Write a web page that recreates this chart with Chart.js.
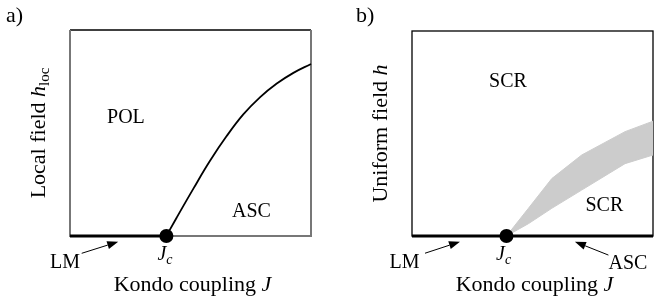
<!DOCTYPE html>
<html><head><meta charset="utf-8">
<script src="https://cdn.jsdelivr.net/npm/chart.js@4.4.1/dist/chart.umd.min.js"></script>
<style>
html,body{margin:0;padding:0;background:#fff;}
#wrap{display:flex;width:660px;height:299px;}
canvas{display:block;}
</style>
</head><body>
<div id="wrap"><canvas id="ca" width="330" height="299"></canvas><canvas id="cb" width="330" height="299"></canvas></div>
<script>
// ---- data (normalised J, h) ----
const JcA = 0.40;
const JcB = 0.392;
// panel a: POL / ASC boundary h_loc(J)
const boundaryJ = [0.40, 0.443, 0.512, 0.581, 0.650, 0.719, 0.788, 0.858, 0.927, 1.0];
const boundaryH = [0.0, 0.09, 0.23, 0.365, 0.485, 0.59, 0.673, 0.74, 0.792, 0.835];
// panel b: crossover band (upper and lower edges, read at the same J values)
const bandJ      = [0.392, 0.483, 0.580, 0.704, 0.884, 1.0];
const bandUpperH = [0.0, 0.135, 0.28, 0.395, 0.509, 0.56];
const bandLowerH = [0.0, 0.06, 0.135, 0.224, 0.353, 0.395];
// text labels
const panelLabels = ['a)', 'b)'];
const xTitle = ['Kondo coupling ', 'J'];
const yTitleA = ['Local field ', 'h', 'loc'];
const yTitleB = ['Uniform field ', 'h'];
const regionTextA = ['POL', 'ASC'];
const regionPosA = [[0.232, 0.547], [0.753, 0.094]];
const regionTextB = ['SCR', 'SCR'];
const regionPosB = [[0.398, 0.725], [0.798, 0.123]];

const toXY = (xs, ys) => xs.map((x, i) => ({x, y: ys[i]}));
const bandPolygon = toXY(bandJ, bandUpperH).concat(toXY(bandJ, bandLowerH).reverse());
const SERIF = '"Liberation Serif", "DejaVu Serif", serif';
const F = (s, it) => (it ? 'italic ' : '') + s + 'px ' + SERIF;

function drawRich(ctx, parts, x, y, align) {
  let w = 0;
  parts.forEach(p => { ctx.font = p.font; w += ctx.measureText(p.t).width; });
  let cx = align === 'center' ? x - w / 2 : (align === 'right' ? x - w : x);
  ctx.textAlign = 'left';
  ctx.textBaseline = 'alphabetic';
  parts.forEach(p => {
    ctx.font = p.font;
    ctx.fillText(p.t, cx, y + (p.dy || 0));
    cx += ctx.measureText(p.t).width;
  });
}

function arrow(ctx, x1, y1, x2, y2) {
  const ang = Math.atan2(y2 - y1, x2 - x1);
  const L = 11, W = 4;
  const bx = x2 - L * Math.cos(ang), by = y2 - L * Math.sin(ang);
  ctx.strokeStyle = '#000'; ctx.lineWidth = 1;
  ctx.beginPath(); ctx.moveTo(x1, y1); ctx.lineTo(bx, by); ctx.stroke();
  ctx.fillStyle = '#000';
  ctx.beginPath();
  ctx.moveTo(x2, y2);
  ctx.lineTo(bx + W * Math.sin(ang), by - W * Math.cos(ang));
  ctx.lineTo(bx - W * Math.sin(ang), by + W * Math.cos(ang));
  ctx.closePath(); ctx.fill();
}

function makeDecor(cfg) {
  return {
    id: 'decor' + cfg.id,
    beforeDatasetsDraw(chart) {
      const {ctx, chartArea: a} = chart;
      ctx.save();
      if (cfg.id === 'a') {
        ctx.strokeStyle = '#000'; ctx.lineWidth = 1.3;
        ctx.beginPath(); ctx.moveTo(a.left, a.top); ctx.lineTo(a.right, a.top); ctx.stroke();
        ctx.strokeStyle = '#777'; ctx.lineWidth = 2;
        ctx.beginPath();
        ctx.moveTo(a.left, a.top); ctx.lineTo(a.left, a.bottom); ctx.lineTo(a.right, a.bottom); ctx.lineTo(a.right, a.top);
        ctx.stroke();
      } else {
        ctx.strokeStyle = '#000'; ctx.lineWidth = 1.3;
        ctx.strokeRect(a.left, a.top, a.right - a.left, a.bottom - a.top);
      }
      ctx.restore();
    },
    afterDraw(chart) {
      const {ctx, chartArea: a, scales: {x, y}} = chart;
      ctx.save();
      ctx.fillStyle = '#000';
      // panel label
      drawRich(ctx, [{t: cfg.panel, font: F(22)}], cfg.panelX, 22, 'left');
      // region texts
      cfg.regions.forEach((t, i) => {
        drawRich(ctx, [{t, font: F(20)}], x.getPixelForValue(cfg.regionPos[i][0]), y.getPixelForValue(cfg.regionPos[i][1]), 'center');
      });
      // J_c
      drawRich(ctx, [{t: 'J', font: F(20, true)}, {t: 'c', font: F(14, true), dy: 4}],
        x.getPixelForValue(cfg.jcLabel[0]), y.getPixelForValue(cfg.jcLabel[1]), 'center');
      // bottom labels + arrows
      cfg.bottom.forEach(b => {
        drawRich(ctx, [{t: b.t, font: F(20)}], x.getPixelForValue(b.pos[0]), y.getPixelForValue(b.pos[1]), 'center');
        arrow(ctx, x.getPixelForValue(b.from[0]), y.getPixelForValue(b.from[1]), x.getPixelForValue(b.to[0]), y.getPixelForValue(b.to[1]));
      });
      // x title
      drawRich(ctx, [{t: xTitle[0], font: F(22)}, {t: xTitle[1], font: F(22, true)}], (a.left + a.right) / 2 + 2, a.bottom + 55, 'center');
      // y title
      ctx.translate(a.left - 25, (a.top + a.bottom) / 2);
      ctx.rotate(-Math.PI / 2);
      drawRich(ctx, cfg.yTitle, 0, 0, 'center');
      ctx.restore();
    }
  };
}

function baseOptions(pad) {
  return {
    responsive: false, animation: false,
    layout: {padding: pad},
    plugins: {legend: {display: false}, tooltip: {enabled: false}},
    scales: {
      x: {type: 'linear', min: 0, max: 1, display: false},
      y: {type: 'linear', min: 0, max: 1, display: false}
    }
  };
}

new Chart(document.getElementById('ca'), {
  type: 'scatter',
  data: {datasets: [
    {data: [{x: JcA, y: 0}], pointRadius: 7, pointBackgroundColor: '#000', pointBorderWidth: 0, clip: false},
    {data: [{x: 0, y: 0}, {x: JcA, y: 0}], showLine: true, borderColor: '#000', borderWidth: 3, pointRadius: 0, clip: false},
    {data: toXY(boundaryJ, boundaryH), showLine: true, borderColor: '#000', borderWidth: 1.8, pointRadius: 0,
     tension: 0.4, clip: false}
  ]},
  options: baseOptions({left: 70, right: 19, top: 30, bottom: 63}),
  plugins: [makeDecor({
    id: 'a', panel: panelLabels[0], panelX: 6,
    regions: regionTextA, regionPos: regionPosA,
    jcLabel: [0.394, -0.117],
    bottom: [{t: 'LM', pos: [-0.021, -0.155], from: [0.0485, -0.084], to: [0.2, -0.028]}],
    yTitle: [{t: yTitleA[0], font: F(22)}, {t: yTitleA[1], font: F(22, true)}, {t: yTitleA[2], font: F(15), dy: 4}]
  })]
});

new Chart(document.getElementById('cb'), {
  type: 'scatter',
  data: {datasets: [
    {data: [{x: JcB, y: 0}], pointRadius: 7, pointBackgroundColor: '#000', pointBorderWidth: 0, clip: false},
    {data: [{x: 0, y: 0}, {x: 1, y: 0}], showLine: true, borderColor: '#000', borderWidth: 3, pointRadius: 0, clip: false},
    {data: bandPolygon, showLine: true, borderColor: '#cccccc', borderWidth: 1, pointRadius: 0,
     fill: 'shape', backgroundColor: '#cccccc'}
  ]},
  options: baseOptions({left: 82, right: 7, top: 31, bottom: 63}),
  plugins: [makeDecor({
    id: 'b', panel: panelLabels[1], panelX: 26,
    regions: regionTextB, regionPos: regionPosB,
    jcLabel: [0.38, -0.117],
    bottom: [
      {t: 'LM', pos: [-0.031, -0.156], from: [0.054, -0.084], to: [0.199, -0.028]},
      {t: 'ASC', pos: [0.896, -0.161], from: [0.815, -0.093], to: [0.676, -0.028]}
    ],
    yTitle: [{t: yTitleB[0], font: F(22)}, {t: yTitleB[1], font: F(22, true)}]
  })]
});
</script>
</body></html>
